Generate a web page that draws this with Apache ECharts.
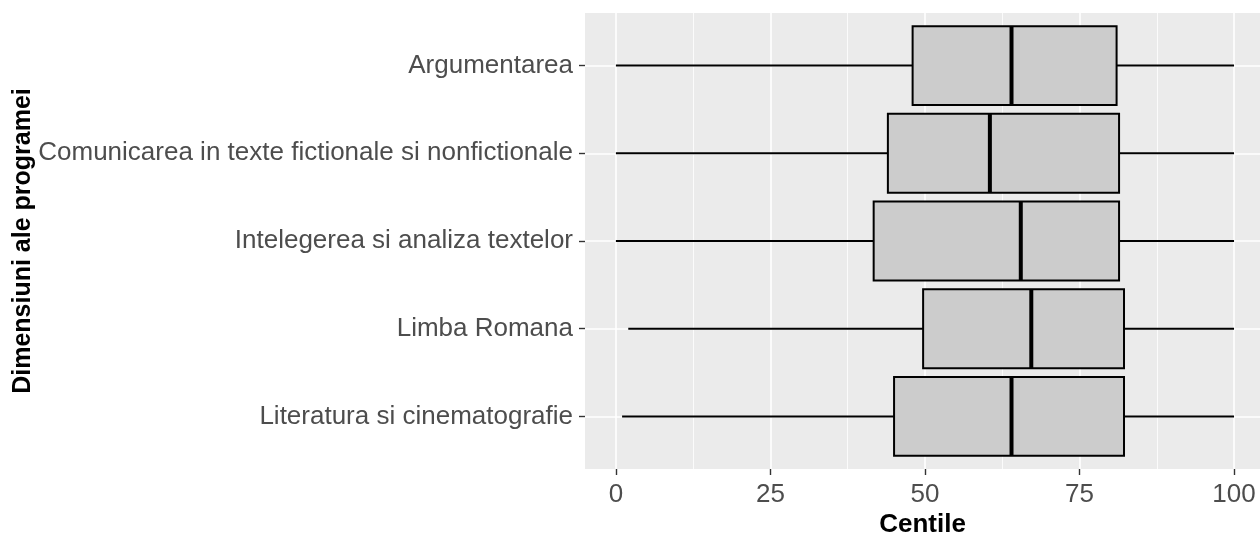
<!DOCTYPE html>
<html>
<head>
<meta charset="utf-8">
<script src="https://cdn.jsdelivr.net/npm/echarts@6/dist/echarts.min.js"></script>
<style>
  html, body { margin: 0; padding: 0; background: #fff; }
  #chart { width: 1260px; height: 534px; }
</style>
</head>
<body>
<div id="chart"></div>
<script>
// categories, top to bottom
const categories = [
  'Argumentarea',
  'Comunicarea in texte fictionale si nonfictionale',
  'Intelegerea si analiza textelor',
  'Limba Romana',
  'Literatura si cinematografie'
];
const whiskerLow = [0, 0, 0, 2, 1];
const q1 = [48, 44, 41.7, 49.7, 45];
const median = [64, 60.5, 65.5, 67.2, 64];
const q3 = [81, 81.4, 81.4, 82.2, 82.2];
const whiskerHigh = [100, 100, 100, 100, 100];

const xTicks = [0, 25, 50, 75, 100];
const xMinor = [12.5, 37.5, 62.5, 87.5];

const boxData = categories.map((c, i) => [i + 1, whiskerLow[i], q1[i], median[i], q3[i], whiskerHigh[i]]);
const yTicks = categories.map((c, i) => i + 1);

const labelFont = { fontFamily: '"Liberation Sans", Arial, sans-serif', fontSize: 26, color: '#4D4D4D' };
const titleFont = { fontFamily: '"Liberation Sans", Arial, sans-serif', fontSize: 26, fontWeight: 'bold', color: '#000' };

const chart = echarts.init(document.getElementById('chart'));

const gridLines = [
  ...xTicks.map(v => ({ xAxis: v, lineStyle: { color: '#fff', width: 1.6, type: 'solid' } })),
  ...xMinor.map(v => ({ xAxis: v, lineStyle: { color: '#fff', width: 0.8, type: 'solid' } })),
  ...yTicks.map(v => ({ yAxis: v, lineStyle: { color: '#fff', width: 1.6, type: 'solid' } }))
];

chart.setOption({
  animation: false,
  grid: {
    left: 585, right: 0, top: 13, bottom: 65,
    containLabel: false,
    outerBoundsMode: 'none',
    show: true, backgroundColor: '#EBEBEB', borderWidth: 0
  },
  xAxis: {
    type: 'value',
    min: -5,
    max: 104.2,
    name: 'Centile',
    nameLocation: 'middle',
    nameGap: 43,
    nameMoveOverlap: false,
    nameTextStyle: titleFont,
    axisLine: { show: false, onZero: false },
    axisTick: { show: true, length: 6, customValues: xTicks, lineStyle: { color: '#333', width: 1.4 } },
    axisLabel: { ...labelFont, margin: 13, customValues: xTicks },
    splitLine: { show: false }
  },
  yAxis: {
    type: 'value',
    min: 0.4,
    max: 5.6,
    inverse: true,
    name: 'Dimensiuni ale programei',
    nameLocation: 'middle',
    nameGap: 549,
    nameRotate: 90,
    nameMoveOverlap: false,
    nameTextStyle: { ...titleFont, fontSize: 25 },
    axisLine: { show: false, onZero: false },
    axisTick: { show: true, length: 6, customValues: yTicks, lineStyle: { color: '#333', width: 1.4 } },
    axisLabel: { ...labelFont, margin: 12, customValues: yTicks, formatter: v => categories[v - 1] || '' },
    splitLine: { show: false }
  },
  series: [
    {
      type: 'line',
      data: [],
      z: 1,
      markLine: {
        silent: true,
        z: 1,
        symbol: 'none',
        label: { show: false },
        animation: false,
        data: gridLines
      }
    },
    {
      type: 'custom',
      z: 3,
      data: boxData,
      encode: { x: [1, 2, 3, 4, 5], y: 0 },
      renderItem: (params, api) => {
        const y = api.value(0);
        const px = v => api.coord([v, y])[0];
        const yc = api.coord([0, y])[1];
        const h = api.size([0, 1])[1] * 0.9;
        const lo = px(api.value(1)), b1 = px(api.value(2)), md = px(api.value(3)),
              b3 = px(api.value(4)), hi = px(api.value(5));
        return {
          type: 'group',
          children: [
            { type: 'line', shape: { x1: lo, y1: yc, x2: b1, y2: yc }, style: { stroke: '#000', lineWidth: 2 } },
            { type: 'line', shape: { x1: b3, y1: yc, x2: hi, y2: yc }, style: { stroke: '#000', lineWidth: 2 } },
            { type: 'rect', shape: { x: b1, y: yc - h / 2, width: b3 - b1, height: h }, style: { fill: '#CCCCCC', stroke: '#000', lineWidth: 2 } },
            { type: 'line', shape: { x1: md, y1: yc - h / 2, x2: md, y2: yc + h / 2 }, style: { stroke: '#000', lineWidth: 4 } }
          ]
        };
      }
    }
  ]
});
</script>
</body>
</html>
